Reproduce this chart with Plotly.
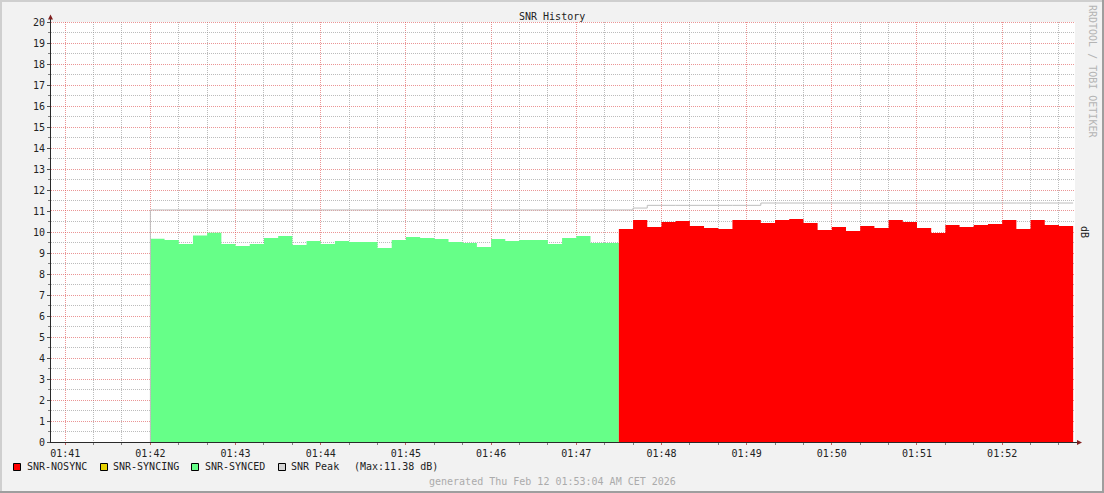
import math
import plotly.graph_objects as go
from datetime import datetime, timedelta

# ---------------- data ----------------
STEP_SECONDS = 10
synced_start = "2026-02-12 01:42:00"
synced_values = [9.68, 9.62, 9.43, 9.83, 9.97, 9.43, 9.33, 9.43, 9.71, 9.81, 9.38,
                 9.57, 9.43, 9.57, 9.52, 9.52, 9.24, 9.62, 9.76, 9.71, 9.67, 9.52,
                 9.48, 9.29, 9.67, 9.57, 9.62, 9.62, 9.43, 9.71, 9.81, 9.48, 9.48]
nosync_start = "2026-02-12 01:47:30"
nosync_values = [10.14, 10.57, 10.24, 10.48, 10.52, 10.29, 10.19, 10.14, 10.57, 10.57,
                 10.43, 10.57, 10.62, 10.43, 10.10, 10.24, 10.05, 10.29, 10.19, 10.57,
                 10.48, 10.19, 9.95, 10.33, 10.24, 10.33, 10.38, 10.57, 10.14, 10.57,
                 10.33, 10.29]
syncing_values = []
peak_start = "2026-02-12 01:42:00"
peak_values = [11.05] * 34 + [11.14] + [11.27] * 8 + [11.38] * 22
peak_max = 11.38

x_start = "2026-02-12 01:40:50"
x_end = "2026-02-12 01:52:51.3"
x_tick_labels = ["01:41", "01:42", "01:43", "01:44", "01:45", "01:46",
                 "01:47", "01:48", "01:49", "01:50", "01:51", "01:52"]
y_tick_labels = [str(v) for v in range(0, 21)]

legend_names = ["SNR-NOSYNC", "SNR-SYNCING", "SNR-SYNCED", "SNR Peak"]
legend_colors = ["#FF0000", "#E6D200", "#66FF88", "#D4D4D4"]

title_text = "SNR History"
watermark = "RRDTOOL / TOBI OETIKER"
unit_label = "dB"
footer = "generated Thu Feb 12 01:53:04 AM CET 2026"

FONT = "DejaVu Sans Mono"
W, H = 1104, 493
L, R, T, B = 51, 29, 22, 51
PW, PH = W - L - R, H - T - B
Y_MIN, Y_MAX = 0, 20

BACK = "#F2F2F2"
SHADE_A = "#CFCFCF"
SHADE_B = "#9E9E9E"
AXIS_COL = "#2A2A2A"
ARROW_COL = "#801F1F"
major_grid = "rgba(222,79,79,0.6)"
minor_grid = "rgba(143,143,143,0.6)"


def parse(s):
    fmt = "%Y-%m-%d %H:%M:%S.%f" if "." in s else "%Y-%m-%d %H:%M:%S"
    return datetime.strptime(s, fmt)


def step_series(start, values):
    t0 = parse(start)
    xs = [t0 + timedelta(seconds=STEP_SECONDS * i) for i in range(len(values) + 1)]
    ys = list(values) + [values[-1]]
    return xs, ys


def px(xp):
    return (xp - L) / PW


def py(yp):
    return (H - B - yp) / PH


T0, T1 = parse(x_start), parse(x_end)
SPAN = (T1 - T0).total_seconds()


def time_to_pixel(t):
    return L + (t - T0).total_seconds() / SPAN * PW


def value_to_pixel(v):
    return (H - B) - (v - Y_MIN) / (Y_MAX - Y_MIN) * PH


fig = go.Figure()

xs, ys = step_series(synced_start, synced_values)
fig.add_trace(go.Scatter(x=xs, y=ys, mode="lines", line=dict(shape="hv", width=0, color=legend_colors[2]),
                         fill="tozeroy", fillcolor=legend_colors[2], name=legend_names[2], hoverinfo="skip"))
xs, ys = step_series(nosync_start, nosync_values)
fig.add_trace(go.Scatter(x=xs, y=ys, mode="lines", line=dict(shape="hv", width=0, color=legend_colors[0]),
                         fill="tozeroy", fillcolor=legend_colors[0], name=legend_names[0], hoverinfo="skip"))
xs, ys = step_series(peak_start, peak_values)
fig.add_trace(go.Scatter(x=[xs[0]] + xs, y=[Y_MIN] + ys, mode="lines",
                         line=dict(shape="hv", width=1, color="#BDBDBD"),
                         name=legend_names[3], hoverinfo="skip"))

t_first = datetime(2026, 2, 12, 1, 41)
tickvals = [t_first + timedelta(minutes=i) for i in range(len(x_tick_labels))]
x_minor_vals = [t_first + timedelta(seconds=s) for s in range(-20, 12 * 60, 20) if s % 60 != 0]
y_major_vals = list(range(Y_MIN, Y_MAX + 1))
y_minor_vals = [v + 0.5 for v in range(Y_MIN, Y_MAX)]

fig.update_layout(
    width=W, height=H,
    margin=dict(l=L, r=R, t=T, b=B),
    paper_bgcolor=BACK, plot_bgcolor="#FFFFFF",
    showlegend=False,
    font=dict(family=FONT, size=10, color="#222222"),
    xaxis=dict(
        type="date", range=[T0, T1], tickvals=tickvals, ticktext=x_tick_labels,
        showgrid=False,
        showline=True, linecolor=AXIS_COL, linewidth=1,
        ticks="outside", ticklen=2, tickcolor="#C06060",
        tickfont=dict(family=FONT, size=10, color="#222222"),
        zeroline=False, layer="above traces",
        minor=dict(tickmode="array", tickvals=x_minor_vals, showgrid=False,
                   ticks="outside", ticklen=2, tickcolor="#808080"),
    ),
    yaxis=dict(
        range=[Y_MIN, Y_MAX], tickvals=y_major_vals, ticktext=y_tick_labels,
        showgrid=False,
        showline=True, linecolor=AXIS_COL, linewidth=1,
        ticks="outside", ticklen=3, tickcolor="#505050",
        tickfont=dict(family=FONT, size=10, color="#222222"),
        zeroline=False, layer="above traces",
        minor=dict(tickmode="array", tickvals=y_minor_vals, showgrid=False,
                   ticks="outside", ticklen=2, tickcolor="#808080"),
    ),
)

shapes = []
# grid (pixel-snapped dotted lines)
for vals, col in ((x_minor_vals, minor_grid), (tickvals, major_grid)):
    for t in vals:
        xc = math.floor(time_to_pixel(t)) + 0.5
        if xc <= L or xc >= W - R:
            continue
        shapes.append(dict(type="line", xref="paper", yref="paper", x0=px(xc), x1=px(xc),
                           y0=py(T), y1=py(H - B), layer="below",
                           line=dict(color=col, width=1, dash="1px,1px")))
for vals, col in ((y_minor_vals, minor_grid), (y_major_vals[1:], major_grid)):
    for v in vals:
        yc = math.floor(value_to_pixel(v)) + 0.5
        shapes.append(dict(type="line", xref="paper", yref="paper", x0=px(L), x1=px(W - R),
                           y0=py(yc), y1=py(yc), layer="below",
                           line=dict(color=col, width=1, dash="1px,1px")))
# frame
shapes.append(dict(type="rect", xref="paper", yref="paper", x0=px(0), x1=px(W), y0=py(0), y1=py(2),
                   fillcolor=SHADE_A, line=dict(width=0), layer="above"))
shapes.append(dict(type="rect", xref="paper", yref="paper", x0=px(0), x1=px(2), y0=py(0), y1=py(H),
                   fillcolor=SHADE_A, line=dict(width=0), layer="above"))
shapes.append(dict(type="rect", xref="paper", yref="paper", x0=px(W - 2), x1=px(W), y0=py(0), y1=py(H),
                   fillcolor=SHADE_B, line=dict(width=0), layer="above"))
shapes.append(dict(type="rect", xref="paper", yref="paper", x0=px(0), x1=px(W), y0=py(H - 2), y1=py(H),
                   fillcolor=SHADE_B, line=dict(width=0), layer="above"))
# axis extensions and arrows
shapes.append(dict(type="line", xref="paper", yref="paper", x0=px(50.5), x1=px(50.5), y0=py(22), y1=py(18),
                   line=dict(color=AXIS_COL, width=1)))
shapes.append(dict(type="line", xref="paper", yref="paper", x0=px(1075), x1=px(1078), y0=py(442.5), y1=py(442.5),
                   line=dict(color=AXIS_COL, width=1)))
shapes.append(dict(type="path", xref="paper", yref="paper",
                   path=f"M {px(48)} {py(19.5)} L {px(53)} {py(19.5)} L {px(50.5)} {py(14.5)} Z",
                   fillcolor=ARROW_COL, line=dict(width=0)))
shapes.append(dict(type="path", xref="paper", yref="paper",
                   path=f"M {px(1077)} {py(440)} L {px(1077)} {py(445)} L {px(1082)} {py(442.5)} Z",
                   fillcolor=ARROW_COL, line=dict(width=0)))
# legend boxes
legend_box_x = [13, 100, 191, 278]
for bx, col in zip(legend_box_x, legend_colors):
    shapes.append(dict(type="rect", xref="paper", yref="paper", x0=px(bx + 0.5), x1=px(bx + 7.5),
                       y0=py(463.5), y1=py(470.5), fillcolor=col, line=dict(color="#000000", width=1)))
fig.update_layout(shapes=shapes)

ann = []
ann.append(dict(text=title_text, x=px(552), y=py(16), xref="paper", yref="paper",
                showarrow=False, xanchor="center", yanchor="middle",
                font=dict(family=FONT, size=10, color="#222222")))
ann.append(dict(text=watermark, x=px(1093), y=py(71), xref="paper", yref="paper", textangle=90,
                showarrow=False, xanchor="center", yanchor="middle",
                font=dict(family=FONT, size=10, color="#B4B4B4")))
ann.append(dict(text=unit_label, x=px(1085), y=py(232), xref="paper", yref="paper", textangle=90,
                showarrow=False, xanchor="center", yanchor="middle",
                font=dict(family=FONT, size=10, color="#222222")))
legend_text_x = [25, 111, 203, 289]
for tx, name in zip(legend_text_x, legend_names):
    ann.append(dict(text=name, x=px(tx), y=py(466.5), xref="paper", yref="paper",
                    showarrow=False, xanchor="left", yanchor="middle",
                    font=dict(family=FONT, size=10, color="#222222")))
ann.append(dict(text=f"(Max:{peak_max:.2f} dB)", x=px(352), y=py(466.5), xref="paper", yref="paper",
                showarrow=False, xanchor="left", yanchor="middle",
                font=dict(family=FONT, size=10, color="#222222")))
ann.append(dict(text=footer, x=px(552), y=py(481), xref="paper", yref="paper",
                showarrow=False, xanchor="center", yanchor="middle",
                font=dict(family=FONT, size=10, color="#ABABAB")))
fig.update_layout(annotations=ann)

fig.write_html("out.html", config={"displayModeBar": False},
               post_script="document.body.style.margin='0';document.body.style.overflow='hidden';")
